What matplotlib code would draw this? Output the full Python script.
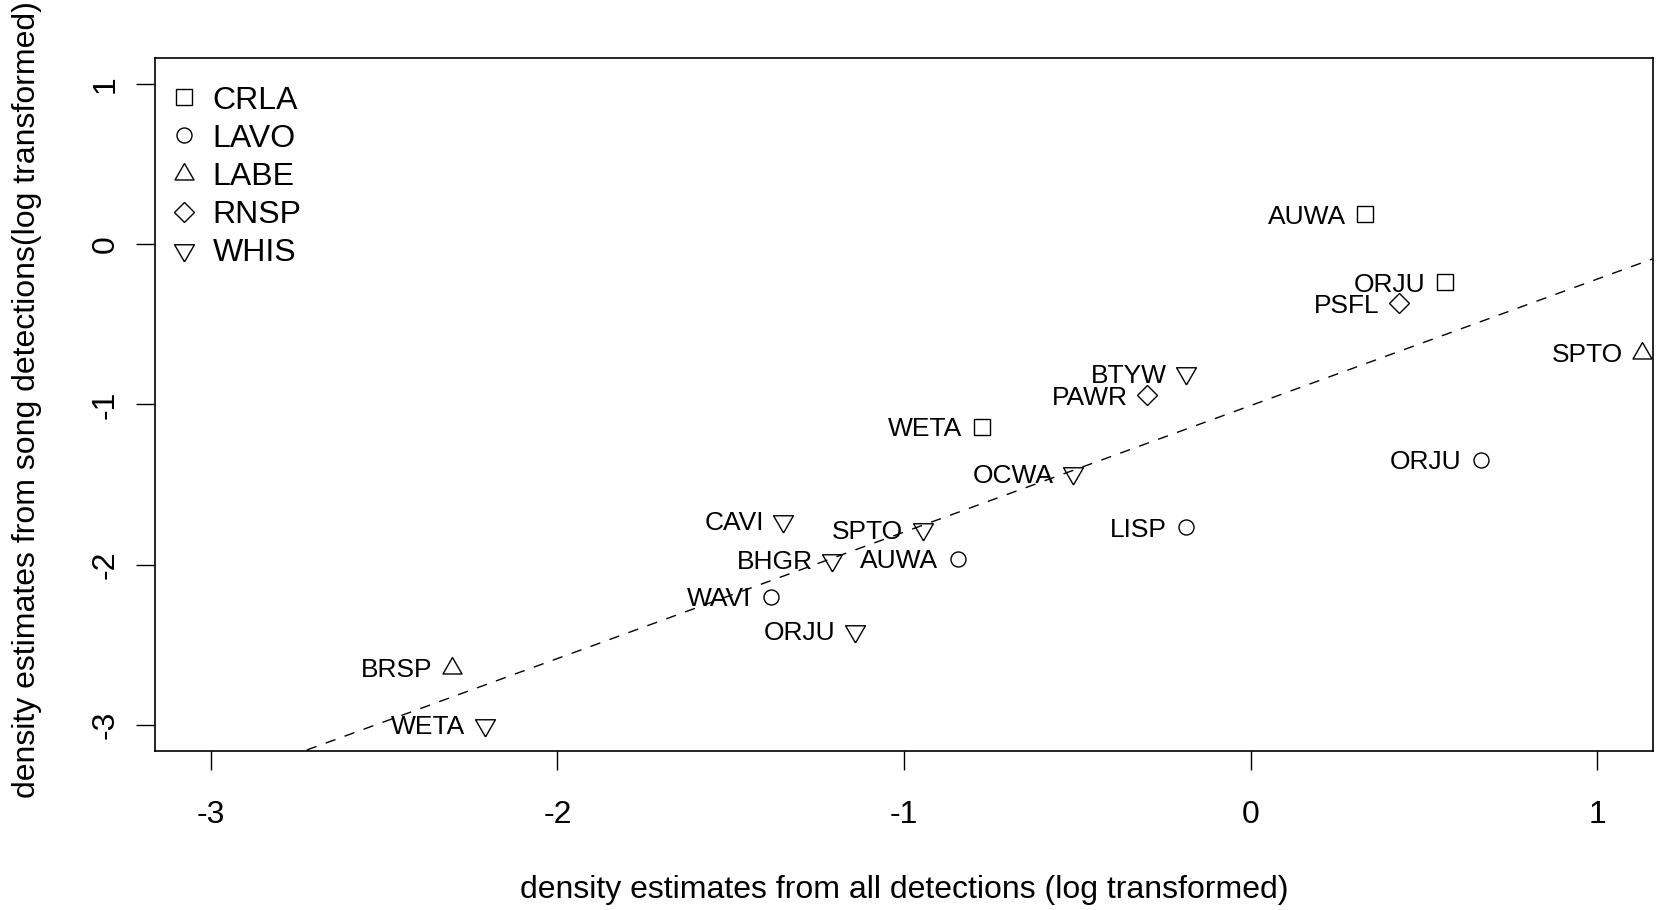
import matplotlib
matplotlib.use("Agg")
import numpy as np
import matplotlib.pyplot as plt

plt.rcParams['font.family'] = ['Liberation Sans', 'DejaVu Sans']
plt.rcParams['axes.unicode_minus'] = False

# groups shown in the legend, in order
groups = ["CRLA", "LAVO", "LABE", "RNSP", "WHIS"]

# one entry per point
species = ["AUWA", "ORJU", "WETA",
           "ORJU", "LISP", "AUWA", "WAVI",
           "SPTO", "BRSP",
           "PSFL", "PAWR",
           "BTYW", "OCWA", "CAVI", "SPTO", "BHGR", "ORJU", "WETA"]
group = ["CRLA"] * 3 + ["LAVO"] * 4 + ["LABE"] * 2 + ["RNSP"] * 2 + ["WHIS"] * 7
all_det = [0.330, 0.561, -0.775,
           0.665, -0.186, -0.845, -1.385,
           1.129, -2.304,
           0.427, -0.299,
           -0.186, -0.513, -1.349, -0.946, -1.208, -1.141, -2.209]
song_det = [0.185, -0.237, -1.140,
            -1.344, -1.766, -1.964, -2.201,
            -0.679, -2.643,
            -0.369, -0.942,
            -0.804, -1.430, -1.727, -1.779, -1.970, -2.412, -2.998]

# fitted line (abline)
fit_intercept = -1.007
fit_slope = 0.789

ticks = [-3, -2, -1, 0, 1]

# R-like open symbols
tri_up = [(0, 1.555), (1.347, -0.778), (-1.347, -0.778), (0, 1.555)]
tri_down = [(x, -y) for x, y in tri_up]
marker_style = {
    "CRLA": dict(marker="s", ms=11.5),
    "LAVO": dict(marker="o", ms=10.8),
    "LABE": dict(marker=tri_up, ms=15.8),
    "RNSP": dict(marker="D", ms=10.5),
    "WHIS": dict(marker=tri_down, ms=16.5),
}

FS_PTS = 19   # point labels
FS = 23       # axes, legend
W, H = 1658, 910
fig = plt.figure(figsize=(W / 100, H / 100), dpi=100)
left, right, top, bottom = 155.4, 1652.7, 58.2, 750.7
ax = fig.add_axes([left / W, 1 - bottom / H, (right - left) / W, (bottom - top) / H])

ax.set_xlim(-3.16, 1.16)
ax.set_ylim(-3.16, 1.16)

# dashed regression line across the plot region
xl = np.array(ax.get_xlim())
ax.plot(xl, fit_intercept + fit_slope * xl, color="black", lw=1.0,
        linestyle=(0, (7.5, 7)), zorder=1)

for s, g, x, y in zip(species, group, all_det, song_det):
    st = marker_style[g]
    ax.plot([x], [y], linestyle="none", marker=st["marker"], ms=st["ms"],
            mfc="none", mec="black", mew=1.0, zorder=2)
    ax.annotate(s, (x, y), xytext=(-14, 0), textcoords="offset points",
                ha="right", va="center_baseline", fontsize=FS_PTS, zorder=3)

# legend without box
for i, g in enumerate(groups):
    st = marker_style[g]
    yy = 0.9435 - i * 0.055
    ax.plot([0.0191], [yy], transform=ax.transAxes, linestyle="none",
            marker=st["marker"], ms=st["ms"], mfc="none", mec="black",
            mew=1.0, clip_on=False)
    ax.text(0.0381, yy, g, transform=ax.transAxes, ha="left",
            va="center_baseline", fontsize=FS)

ax.set_xticks(ticks)
ax.set_yticks(ticks)
ax.set_xticklabels([str(t) for t in ticks])
ax.set_yticklabels([str(t) for t in ticks], rotation=90, va="center")
ax.tick_params(axis="both", direction="out", length=13.7, width=1.0,
               labelsize=FS)
ax.tick_params(axis="x", pad=21.5)
ax.tick_params(axis="y", pad=11)
for sp in ax.spines.values():
    sp.set_linewidth(1.2)

fig.text(904 / W, 1 - 898 / H, "density estimates from all detections (log transformed)",
         ha="center", va="baseline", fontsize=FS)
fig.text(35 / W, 1 - 400 / H, "density estimates from song detections(log transformed)",
         ha="center", va="baseline", rotation=90, rotation_mode="anchor", fontsize=FS)

fig.savefig("out.png", dpi=100)
